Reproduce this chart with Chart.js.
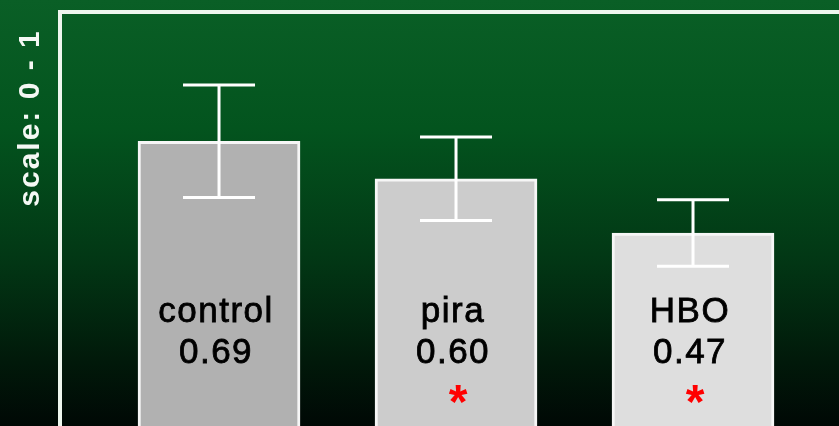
<!DOCTYPE html>
<html>
<head>
<meta charset="utf-8">
<script src="https://cdn.jsdelivr.net/npm/chart.js@4.4.0/dist/chart.umd.min.js"></script>
<style>
  html, body { margin: 0; padding: 0; background: #000; overflow: hidden; }
  #chart { display: block; }
</style>
</head>
<body>
<canvas id="chart" width="839" height="440"></canvas>
<script>
const categories = ['control', 'pira', 'HBO'];
const means = [0.69, 0.60, 0.47];
const errors = [0.135, 0.10, 0.08];
const significant = [false, true, true];
const axisTitle = 'scale: 0 - 1';

const FONT = '"Liberation Sans", Arial, sans-serif';

// green-to-black backdrop behind everything
const backdrop = {
  id: 'backdrop',
  beforeDraw(chart) {
    const { ctx, width } = chart;
    const g = ctx.createLinearGradient(0, 0, 0, 426);
    g.addColorStop(0, '#0a5f26');
    g.addColorStop(0.3, '#03541e');
    g.addColorStop(0.6, '#023815');
    g.addColorStop(0.85, '#01190a');
    g.addColorStop(1, '#000805');
    ctx.save();
    ctx.fillStyle = g;
    ctx.fillRect(0, 0, width, chart.height);
    ctx.restore();
  }
};

// white frame, open past the right and bottom edges
const frame = {
  id: 'frame',
  beforeDatasetsDraw(chart) {
    const { ctx, chartArea } = chart;
    ctx.save();
    ctx.strokeStyle = '#eef6ee';
    ctx.lineWidth = 4;
    ctx.strokeRect(chartArea.left, chartArea.top, chartArea.right - chartArea.left + 40, chartArea.bottom - chartArea.top + 40);
    ctx.restore();
  }
};

// error bars, in-bar labels and significance stars
const annotations = {
  id: 'annotations',
  afterDatasetsDraw(chart) {
    const { ctx, chartArea } = chart;
    const xs = chart.scales.x, ys = chart.scales.y;
    ctx.save();
    categories.forEach((name, i) => {
      const cx = xs.getPixelForValue(i);
      const top = ys.getPixelForValue(means[i] + errors[i]);
      const bot = ys.getPixelForValue(means[i] - errors[i]);
      ctx.strokeStyle = '#ffffff';
      ctx.lineWidth = 3;
      ctx.beginPath();
      ctx.moveTo(cx, top); ctx.lineTo(cx, bot);
      ctx.moveTo(cx - 36, top); ctx.lineTo(cx + 36, top);
      ctx.moveTo(cx - 36, bot); ctx.lineTo(cx + 36, bot);
      ctx.stroke();

      ctx.fillStyle = '#000000';
      ctx.strokeStyle = '#000000';
      ctx.lineWidth = 0.8;
      ctx.textAlign = 'center';
      ctx.textBaseline = 'alphabetic';
      ctx.letterSpacing = '1.5px';
      ctx.font = '35px ' + FONT;
      ctx.fillText(name, cx - 3, chartArea.bottom - 107);
      ctx.strokeText(name, cx - 3, chartArea.bottom - 107);
      const val = means[i].toFixed(2);
      ctx.fillText(val, cx - 3, chartArea.bottom - 66);
      ctx.strokeText(val, cx - 3, chartArea.bottom - 66);
      ctx.letterSpacing = '0px';

      if (significant[i]) {
        ctx.fillStyle = '#ff0000';
        ctx.font = 'bold 48px ' + FONT;
        const m = ctx.measureText('*');
        const h = m.actualBoundingBoxAscent + m.actualBoundingBoxDescent;
        const y = chartArea.bottom - 35 + h / 2 - m.actualBoundingBoxDescent;
        ctx.fillText('*', cx + 2, y);
      }
    });
    ctx.restore();
  },
  afterDraw(chart) {
    const { ctx } = chart;
    ctx.save();
    ctx.translate(31, 118);
    ctx.rotate(-Math.PI / 2);
    ctx.fillStyle = '#f4f8f4';
    ctx.letterSpacing = '2px';
    ctx.font = 'bold 30px ' + FONT;
    ctx.textAlign = 'center';
    ctx.textBaseline = 'middle';
    ctx.fillText(axisTitle, 0, 0);
    ctx.restore();
  }
};

new Chart(document.getElementById('chart'), {
  type: 'bar',
  data: {
    datasets: [{
      data: categories.map((c, i) => ({ x: i, y: means[i] })),
      backgroundColor: ['#b1b1b1', '#cccccc', '#dedede'],
      borderColor: '#f6f6f6',
      borderWidth: 3,
      borderSkipped: false,
      barThickness: 162
    }]
  },
  options: {
    responsive: false,
    animation: false,
    devicePixelRatio: 1,
    layout: { padding: { left: 60, top: 12, right: 0, bottom: 11 } },
    plugins: { legend: { display: false }, tooltip: { enabled: false } },
    scales: {
      x: { type: 'linear', min: -0.671, max: 2.616, offset: false, display: false },
      y: { min: 0, max: 1, display: false }
    }
  },
  plugins: [backdrop, frame, annotations]
});
</script>
</body>
</html>
